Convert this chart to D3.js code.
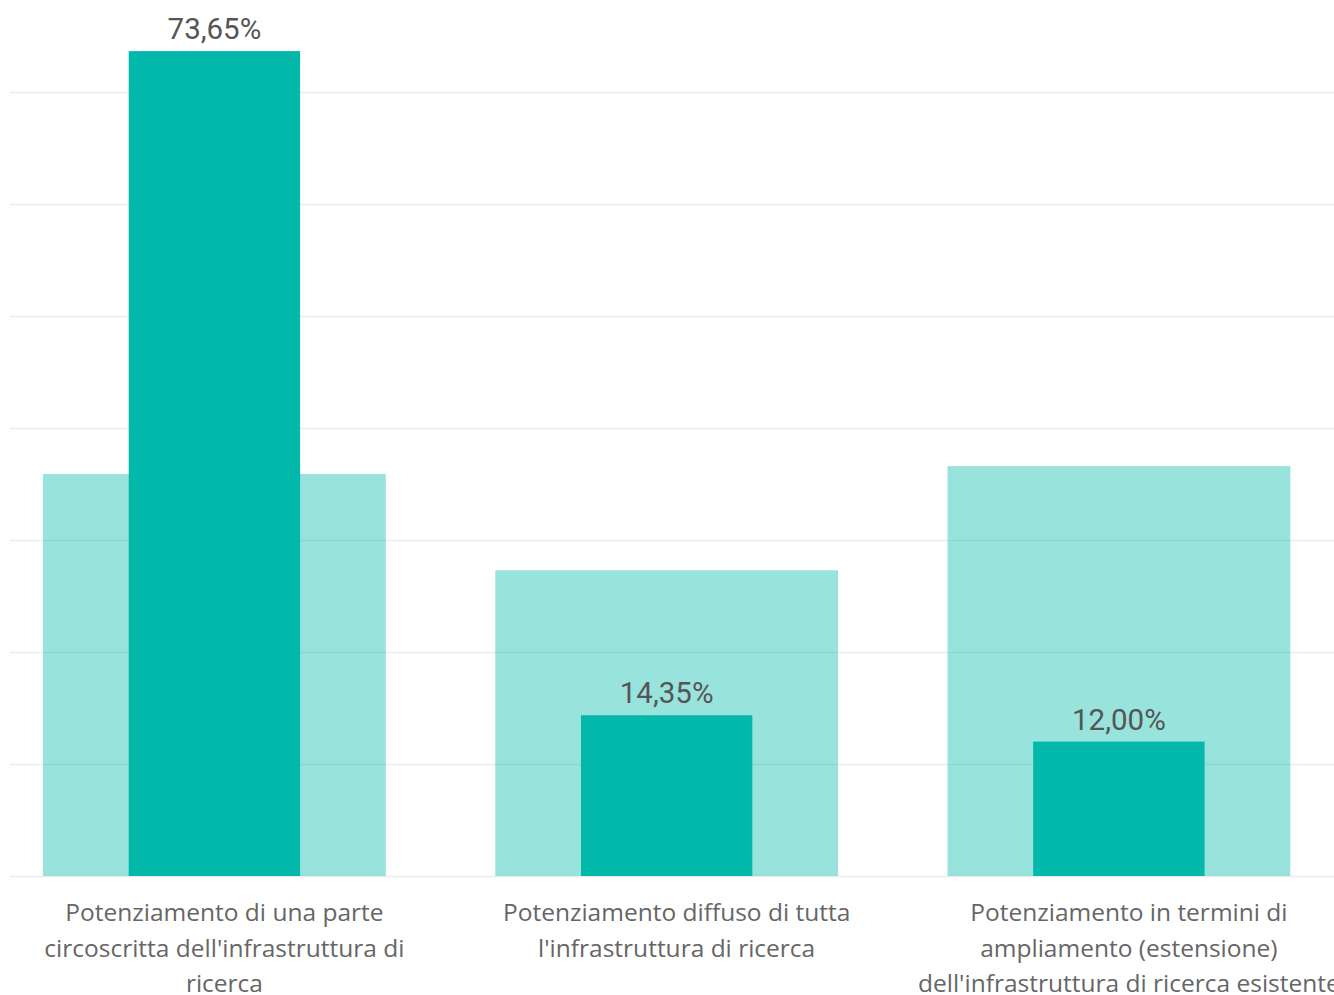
<!DOCTYPE html>
<html>
<head>
<meta charset="utf-8">
<script src="https://cdn.jsdelivr.net/npm/d3@7"></script>
<style>
  html, body { margin: 0; padding: 0; background: #fff; }
  svg { display: block; }
</style>
</head>
<body>
<svg id="chart" width="1334" height="995"></svg>
<script>
// categories, each split into the lines shown under the axis
const categories = [
  "Potenziamento di una parte circoscritta dell'infrastruttura di ricerca",
  "Potenziamento diffuso di tutta l'infrastruttura di ricerca",
  "Potenziamento in termini di ampliamento (estensione) dell'infrastruttura di ricerca esistente"
];
const categoryLines = [
  ["Potenziamento di una parte", "circoscritta dell'infrastruttura di", "ricerca"],
  ["Potenziamento diffuso di tutta", "l'infrastruttura di ricerca"],
  ["Potenziamento in termini di", "ampliamento (estensione)", "dell'infrastruttura di ricerca esistente"]
];
// wide pale bars (unlabelled series) and narrow labelled bars, in %
const backValues = [35.9, 27.3, 36.6];
const frontValues = [73.65, 14.35, 12.00];
const gridTicks = [0, 10, 20, 30, 40, 50, 60, 70];

const svg = d3.select('#chart');
const baseColor = '#01B8AA';

const x = d3.scaleBand()
  .domain(categories)
  .range([-11.7, 1345])
  .paddingInner(0.242)
  .paddingOuter(0.121);

const y = d3.scaleLinear()
  .domain([0, 70])
  .range([876, 92]);

// gridlines
svg.append('g')
  .selectAll('line')
  .data(gridTicks)
  .join('line')
  .attr('x1', 10)
  .attr('x2', 1334)
  .attr('y1', d => y(d) + 0.5)
  .attr('y2', d => y(d) + 0.5)
  .attr('stroke', '#ececec')
  .attr('stroke-width', 1.5);

// pale background bars
svg.append('g')
  .selectAll('rect')
  .data(backValues)
  .join('rect')
  .attr('x', (d, i) => x(categories[i]))
  .attr('width', x.bandwidth())
  .attr('y', d => y(d))
  .attr('height', d => y(0) - y(d))
  .attr('fill', baseColor)
  .attr('fill-opacity', 0.4);

// narrow front bars
const frontW = x.bandwidth() / 2;
svg.append('g')
  .selectAll('rect')
  .data(frontValues)
  .join('rect')
  .attr('x', (d, i) => x(categories[i]) + (x.bandwidth() - frontW) / 2)
  .attr('width', frontW)
  .attr('y', d => y(d))
  .attr('height', d => y(0) - y(d))
  .attr('fill', baseColor);

// value labels
const fmt = v => v.toFixed(2).replace('.', ',') + '%';
svg.append('g')
  .selectAll('text')
  .data(frontValues)
  .join('text')
  .attr('x', (d, i) => x(categories[i]) + x.bandwidth() / 2)
  .attr('y', d => y(d) - 12)
  .attr('text-anchor', 'middle')
  .attr('font-family', 'Roboto, sans-serif')
  .attr('font-size', '29.5px')
  .attr('fill', '#555')
  .text(fmt);

// category labels (sit a little right of the bar centres, as in the original)
const catGroup = svg.append('g');
categoryLines.forEach((lines, i) => {
  const cx = x(categories[i]) + x.bandwidth() / 2 + 10;
  const t = catGroup.append('text')
    .attr('text-anchor', 'middle')
    .attr('font-family', '"Open Sans", sans-serif')
    .attr('font-size', '24.5px')
    .attr('fill', '#666');
  lines.forEach((line, j) => {
    t.append('tspan')
      .attr('x', cx)
      .attr('y', 921 + j * 35.5)
      .text(line);
  });
});
</script>
</body>
</html>
